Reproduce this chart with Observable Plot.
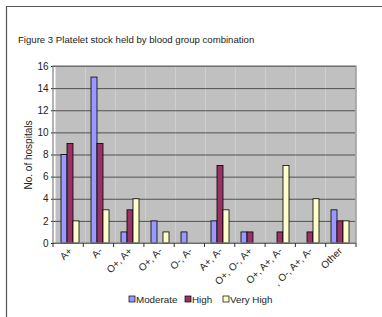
<!DOCTYPE html>
<html>
<head>
<meta charset="utf-8">
<script src="https://cdn.jsdelivr.net/npm/d3@7"></script>
<script src="https://cdn.jsdelivr.net/npm/@observablehq/plot@0.6"></script>
<style>
  html, body { margin: 0; padding: 0; background: #fff; }
  #chart svg { display: block; }
</style>
</head>
<body>
<div id="chart"></div>
<script>
const title = "Figure 3 Platelet stock held by blood group combination";
const categories = ["A+", "A-", "O+, A+", "O+, A-", "O-, A-", "A+, A-", "O+, O-, A+", "O+, A+, A-", ", O-, A+, A-", "Other"];
const series = ["Moderate", "High", "Very High"];
const moderate = [8, 15, 1, 2, 1, 2, 1, 0, 0, 3];
const high = [9, 9, 3, 0, 0, 7, 1, 1, 1, 2];
const veryHigh = [2, 3, 4, 1, 0, 3, 0, 7, 4, 2];
const colors = ["#9999ff", "#993366", "#ffffcc"];
const yTicks = [0, 2, 4, 6, 8, 10, 12, 14, 16];
const yLabel = "No. of hospitals";

const values = [moderate, high, veryHigh];
const rows = [];
categories.forEach((c, i) => {
  series.forEach((s, j) => {
    const v = values[j][i];
    if (v > 0) rows.push({cat: c, series: s, value: v});
  });
});

const W = 382, H = 317;
const font = "'Liberation Sans', Arial, sans-serif";

const plot = Plot.plot({
  width: W,
  height: H,
  marginLeft: 53,
  marginRight: 26,
  marginTop: 66,
  marginBottom: 74,
  style: {fontFamily: font, fontSize: "10px", color: "#222", background: "#fff", overflow: "visible"},
  fx: {domain: categories, padding: 0, label: null, tickSize: 0, tickRotate: -45, tickPadding: 6},
  x: {domain: series, axis: null, paddingInner: 0, paddingOuter: 0.75},
  y: {domain: [0, 16], ticks: yTicks, tickSize: 4, tickPadding: 3, label: yLabel, labelAnchor: "center", labelOffset: 31, labelArrow: "none"},
  color: {domain: series, range: colors},
  marks: [
    Plot.frame({fill: "#c0c0c0", stroke: null}),
    Plot.gridY(yTicks, {stroke: "#505050", strokeOpacity: 1, strokeWidth: 1}),
    Plot.barY(rows, {fx: "cat", x: "series", y: "value", fill: "series", stroke: "#000", strokeWidth: 0.8})
  ]
});

const svg = d3.select(plot);
const fxS = plot.scale("fx");
const yS = plot.scale("y");
const [x0, x1] = fxS.range;
const [yb, yt] = yS.range;
const step = (x1 - x0) / categories.length;

// plot area border
svg.append("rect")
  .attr("x", x0).attr("y", Math.min(yt, yb))
  .attr("width", x1 - x0).attr("height", Math.abs(yb - yt))
  .attr("fill", "none").attr("stroke", "#808080").attr("stroke-width", 1.2);

// category boundary ticks
d3.range(categories.length + 1).forEach(i => {
  const xx = x0 + i * step;
  svg.append("line")
    .attr("x1", xx).attr("x2", xx)
    .attr("y1", Math.max(yt, yb)).attr("y2", Math.max(yt, yb) + 4)
    .attr("stroke", "#333").attr("stroke-width", 1);
});

// outer figure frame (left and top)
svg.append("path")
  .attr("d", `M6.5,${H} V6.5 H${W}`)
  .attr("fill", "none").attr("stroke", "#555").attr("stroke-width", 1.2);

// title
svg.append("text")
  .attr("x", 18).attr("y", 43)
  .attr("text-anchor", "start")
  .attr("font-family", font).attr("font-size", "9.6px").attr("fill", "#222")
  .text(title);

// legend
const legendX = [129, 185, 223];
series.forEach((s, j) => {
  svg.append("rect")
    .attr("x", legendX[j]).attr("y", 296)
    .attr("width", 6).attr("height", 6)
    .attr("fill", colors[j]).attr("stroke", "#000").attr("stroke-width", 0.7);
  svg.append("text")
    .attr("x", legendX[j] + 7).attr("y", 302.5)
    .attr("text-anchor", "start")
    .attr("font-family", font).attr("font-size", "9.8px").attr("fill", "#222")
    .text(s);
});

document.getElementById("chart").appendChild(plot);
</script>
</body>
</html>
